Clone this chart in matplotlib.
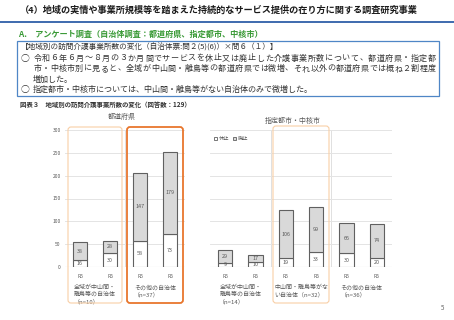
import matplotlib
matplotlib.use("Agg")
import matplotlib.pyplot as plt
from matplotlib.patches import FancyBboxPatch, Rectangle
from matplotlib.lines import Line2D

plt.rcParams['font.family'] = ['Noto Sans CJK JP', 'DejaVu Sans']

# data: 休止 (white, bottom) / 廃止 (grey, top)
pref_ticks = ["R5", "R6", "R5", "R6"]
pref_suspend = [16, 30, 58, 73]
pref_abolish = [38, 28, 147, 179]
pref_groups = ["全域が中山間・\n離島等の自治体\n（n=10）", "その他の自治体\n（n=37）"]

city_ticks = ["R5", "R6", "R5", "R6", "R5", "R6"]
city_suspend = [9, 10, 19, 33, 30, 20]
city_abolish = [29, 17, 106, 99, 66, 74]
city_groups = ["全域が中山間・\n離島等の自治体\n（n=14）", "中山間・離島等がな\nい自治体（n=32）",
               "その他の自治体\n（n=36）"]

W, H = 454, 320
fig = plt.figure(figsize=(W / 100, H / 100), dpi=100)

GRAY_TXT = "#595959"
EDGE = "#606060"
FILL = "#d9d9d9"


def px_axes(x0, y0, x1, y1):
    # pixel box (from top-left) -> figure axes
    return fig.add_axes([x0 / W, 1 - y1 / H, (x1 - x0) / W, (y1 - y0) / H])


def draw_bars(ax, ticks, susp, abol, groups):
    xs = range(len(ticks))
    ax.bar(xs, susp, width=0.48, color="white", edgecolor=EDGE, linewidth=0.8, zorder=3)
    ax.bar(xs, abol, bottom=susp, width=0.48, color=FILL, edgecolor=EDGE, linewidth=0.8, zorder=3)
    for x, s, a in zip(xs, susp, abol):
        ax.text(x, s / 2, str(s), ha="center", va="center", fontsize=3.9, color=GRAY_TXT, zorder=4)
        ax.text(x, s + a / 2, str(a), ha="center", va="center", fontsize=3.9, color=GRAY_TXT, zorder=4)
    ax.set_xlim(-0.5, len(ticks) - 0.5)
    ax.set_ylim(0, 300)
    ax.set_yticks(range(0, 301, 50))
    ax.grid(axis="y", color="#e4e4e4", linewidth=0.7, zorder=0)
    ax.set_xticks(list(xs))
    ax.set_xticklabels(ticks, fontsize=3.6, color=GRAY_TXT)
    ax.tick_params(length=0, pad=5)
    for s in ax.spines.values():
        s.set_visible(False)
    ax.axhline(0, color="#d0d0d0", linewidth=0.8, zorder=2)
    # separators between groups
    for i in range(1, len(groups)):
        ax.axvline(2 * i - 0.5, color="#e0e0e0", linewidth=0.7, zorder=1)
    for i, g in enumerate(groups):
        ax.text(2 * i + 0.5, -0.13, g, transform=ax.get_xaxis_transform(), ha="center", va="top",
                multialignment="left", fontsize=4.3, color=GRAY_TXT, linespacing=1.3)


ax1 = px_axes(65, 130, 185, 267)
draw_bars(ax1, pref_ticks, pref_suspend, pref_abolish, pref_groups)
ax1.tick_params(axis="y", labelsize=3.6, labelcolor=GRAY_TXT, pad=3)

ax2 = px_axes(210, 130, 392, 267)
draw_bars(ax2, city_ticks, city_suspend, city_abolish, city_groups)
ax2.set_yticklabels([])

# overlay in pixel coordinates for page text and frames
ov = fig.add_axes([0, 0, 1, 1], facecolor="none")
ov.set_xlim(0, W)
ov.set_ylim(H, 0)
ov.axis("off")

ov.text(20, 10, "（4）地域の実情や事業所規模等を踏まえた持続的なサービス提供の在り方に関する調査研究事業",
        fontsize=6.6, fontweight="bold", va="center", ha="left", color="#1a1a1a")
ov.add_line(Line2D([0, W], [21.5, 21.5], color="#2f5fa8", linewidth=1.3))

ov.text(18, 34, "A．  アンケート調査（自治体調査：都道府県、指定都市、中核市）",
        fontsize=5.9, fontweight="bold", va="center", ha="left", color="#3a9a36")

ov.add_patch(Rectangle((17, 41), 422, 55, fill=False, edgecolor="#4f86c6", linewidth=0.9))


def justified(s, x0, x1, y, size):
    n = len(s)
    step = (x1 - x0) / n
    for i, ch in enumerate(s):
        ov.text(x0 + step * (i + 0.5), y, ch, fontsize=size, ha="center", va="center", color="#333333")


ov.text(21, 47, "【地域別の訪問介護事業所数の変化（自治体票:問２(5)(6)）×問６（１）】",
        fontsize=5.5, va="center", ha="left", color="#333333")
ov.text(21, 58, "○", fontsize=6.4, va="center", ha="left", color="#333333")
justified("令和６年６月～８月の３か月間でサービスを休止又は廃止した介護事業所数について、都道府県・指定都",
          33, 436, 58, 5.8)
justified("市・中核市別に見ると、全域が中山間・離島等の都道府県では微増、それ以外の都道府県では概ね２割程度",
          33, 436, 68.5, 5.8)
ov.text(33, 79, "増加した。", fontsize=5.8, va="center", ha="left", color="#333333")
ov.text(21, 89.5, "○", fontsize=6.4, va="center", ha="left", color="#333333")
ov.text(33, 89.5, "指定都市・中核市については、中山間・離島等がない自治体のみで微増した。",
        fontsize=5.8, va="center", ha="left", color="#333333")

ov.text(20, 104, "図表３　地域別の訪問介護事業所数の変化（回答数：129）",
        fontsize=4.6, fontweight="bold", va="center", ha="left", color="#333333")
ov.text(122, 117, "都道府県", fontsize=5, va="center", ha="center", color=GRAY_TXT)
ov.text(293, 121, "指定都市・中核市", fontsize=5, va="center", ha="center", color=GRAY_TXT)

# legend
ov.add_patch(Rectangle((214, 137), 3, 3, facecolor="white", edgecolor=EDGE, linewidth=0.6))
ov.text(218.5, 138.7, "休止", fontsize=3.8, va="center", ha="left", color=GRAY_TXT)
ov.add_patch(Rectangle((233, 137), 3, 3, facecolor=FILL, edgecolor=EDGE, linewidth=0.6))
ov.text(237.5, 138.7, "廃止", fontsize=3.8, va="center", ha="left", color=GRAY_TXT)

# orange highlight frames
frames = [((68, 127, 54, 176), "#f8cfa6", 0.8), ((127, 127, 56, 176), "#e8762d", 1.3),
          ((273, 126, 56, 177), "#f8cfa6", 0.8)]
for (x, y, w, h), c, lw in frames:
    ov.add_patch(FancyBboxPatch((x, y), w, h, boxstyle="round,pad=0,rounding_size=3",
                                fill=False, edgecolor=c, linewidth=lw))

ov.text(443, 308, "5", fontsize=4.5, va="center", ha="center", color="#666666")

fig.savefig("out.png", dpi=100)
